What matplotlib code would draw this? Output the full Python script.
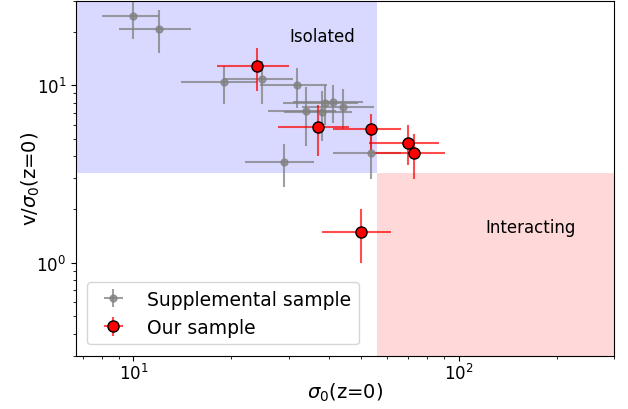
import numpy as np
import matplotlib
matplotlib.use('Agg')
import matplotlib.pyplot as plt

# supplemental sample (gray)
sup_sigma = [10.0, 12.0, 19.0, 24.9, 31.9, 33.9, 38.0, 38.9, 40.9, 43.9, 29.0, 53.8]
sup_sigma_err = [2.0, 3.0, 5.0, 6.1, 7.5, 8.0, 8.9, 10.0, 10.0, 11.0, 7.0, 12.8]
sup_ratio = [24.7, 20.9, 10.4, 10.8, 10.0, 7.13, 7.04, 8.0, 8.1, 7.6, 3.68, 4.17]
sup_ratio_err = [6.5, 5.6, 2.5, 3.0, 2.5, 2.6, 2.2, 2.0, 2.0, 1.9, 1.0, 1.2]

# our sample (red)
our_sigma = [24.0, 36.9, 53.8, 69.8, 72.8, 49.9]
our_sigma_err = [6.0, 9.0, 12.8, 17.0, 18.0, 12.0]
our_ratio = [12.8, 5.85, 5.64, 4.76, 4.15, 1.50]
our_ratio_err = [3.5, 1.85, 1.3, 1.2, 1.17, 0.5]

sigma_cut = 56
ratio_cut = 3.2

fig, ax = plt.subplots(figsize=(6.28, 4.10), dpi=100)
fig.subplots_adjust(left=0.121, right=0.978, top=0.996, bottom=0.13)

ax.set_xscale('log')
ax.set_yscale('log')
ax.set_xlim(6.66, 300)
ax.set_ylim(0.3, 30)

ax.fill_between([6.66, sigma_cut], ratio_cut, 30, color='blue', alpha=0.15, lw=0, zorder=0)
ax.fill_between([sigma_cut, 300], 0.3, ratio_cut, color='red', alpha=0.15, lw=0, zorder=0)

ax.errorbar(sup_sigma, sup_ratio, xerr=sup_sigma_err, yerr=sup_ratio_err,
            fmt='o', color='gray', ms=5, elinewidth=1.5, alpha=0.75,
            label='Supplemental sample')
ax.errorbar(our_sigma, our_ratio, xerr=our_sigma_err, yerr=our_ratio_err,
            fmt='o', color='red', mec='black', ms=8, ecolor=(1, 0, 0, 0.7), elinewidth=1.5,
            label='Our sample')

ax.text(38, 19, 'Isolated', fontsize=12, ha='center', va='center')
ax.text(166, 1.59, 'Interacting', fontsize=12, ha='center', va='center')

ax.set_xlabel(r'$\sigma_0$(z=0)', fontsize=14, labelpad=-2)
ax.set_ylabel(r'v/$\sigma_0$(z=0)', fontsize=14, labelpad=-4)
ax.tick_params(labelsize=12)
ax.tick_params(axis='x', pad=2)
ax.legend(loc='lower left', fontsize=13.5, borderaxespad=0.6)

plt.savefig('out.png')
